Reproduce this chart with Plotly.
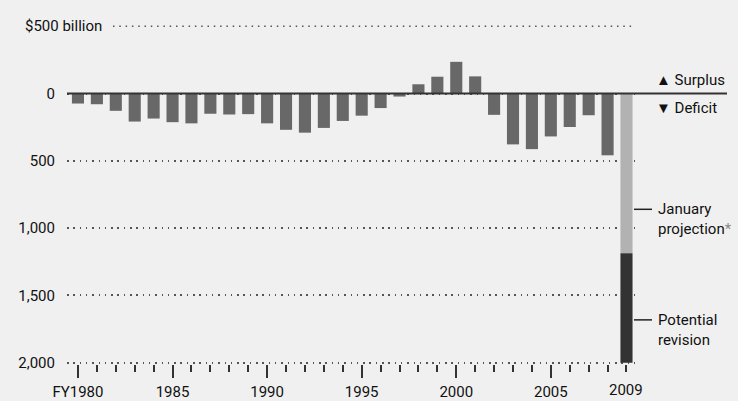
import plotly.graph_objects as go

# Federal budget balance by fiscal year, $ billions (surplus positive, deficit negative)
years = list(range(1980, 2009))
balance = [-73.8, -79.0, -128.0, -207.8, -185.4, -212.3, -221.2, -149.7, -155.2, -152.6,
           -221.0, -269.2, -290.3, -255.1, -203.2, -164.0, -107.4, -21.9, 69.3, 125.6,
           236.2, 128.2, -157.8, -377.6, -412.7, -318.3, -248.2, -160.7, -458.6]

# FY2009: January projection plus a potential upward revision
proj_year = 2009
jan_projection = -1186.0
potential_revision = -814.0

y_tickvals = [0, -500, -1000, -1500, -2000]
y_ticktext = ["0", "500", "1,000", "1,500", "2,000"]
x_tickvals = [1980, 1985, 1990, 1995, 2000, 2005]
x_ticktext = ["FY1980", "1985", "1990", "1995", "2000", "2005"]

FONT = "Roboto, 'Open Sans', sans-serif"
TXT = "#111111"
BG = "#f0f0f0"
F = dict(family=FONT, size=15, color=TXT)

fig = go.Figure()
fig.add_trace(go.Bar(x=years, y=balance, marker=dict(color="#686868", line=dict(width=0)),
                     hoverinfo="x+y"))
fig.add_trace(go.Bar(x=[proj_year], y=[jan_projection],
                     marker=dict(color="#b2b2b2", line=dict(width=0))))
fig.add_trace(go.Bar(x=[proj_year], y=[potential_revision],
                     marker=dict(color="#333333", line=dict(width=0))))

L, R, T, B = 67, 103, 25, 37
fig.update_layout(
    width=738, height=401,
    margin=dict(l=L, r=R, t=T, b=B, pad=0, autoexpand=False),
    paper_bgcolor=BG, plot_bgcolor=BG,
    barmode="relative", bargap=0.36,
    showlegend=False,
    font=F,
    xaxis=dict(
        range=[1979.42, 2009.45],
        automargin=False,
        tickvals=x_tickvals, ticktext=x_ticktext,
        ticks="outside", ticklen=13, tickwidth=1.5, tickcolor="#333",
        ticklabelstandoff=1,
        minor=dict(dtick=1, tick0=1980, ticks="outside", ticklen=7,
                   tickwidth=1.5, tickcolor="#333", showgrid=False),
        showgrid=False, zeroline=False, showline=False,
        tickfont=F,
    ),
    yaxis=dict(
        range=[-2010, 510],
        automargin=False,
        tickvals=y_tickvals, ticktext=y_ticktext,
        ticks="", ticklabelstandoff=11,
        showgrid=True, gridcolor="#555555", gridwidth=1.5, griddash="1.5px,4.8px",
        zeroline=False, showline=False,
        tickfont=F,
    ),
)

plot_w = 738 - L - R


def px_to_paper(px):
    return (px - L) / plot_w


# Top reference line with its label
fig.add_shape(type="line", xref="paper", yref="y", x0=px_to_paper(113), x1=1, y0=500, y1=500,
              line=dict(color="#555555", width=1.5, dash="1.5px,4.8px"), layer="below")
fig.add_annotation(xref="paper", yref="y", x=px_to_paper(104), y=500, xanchor="right",
                   yanchor="middle", text="$500 billion", showarrow=False, font=F)

# Zero line running out under the surplus/deficit key
fig.add_shape(type="line", xref="paper", yref="y", x0=0, x1=px_to_paper(727), y0=0, y1=0,
              line=dict(color="#333333", width=2))
fig.add_annotation(xref="paper", yref="y", x=px_to_paper(654), y=102, xanchor="left",
                   yanchor="middle", text="▲ Surplus", showarrow=False, font=F)
fig.add_annotation(xref="paper", yref="y", x=px_to_paper(654), y=-105, xanchor="left",
                   yanchor="middle", text="▼ Deficit", showarrow=False, font=F)

# Callouts for the 2009 bar
fig.add_shape(type="line", xref="paper", yref="y", x0=px_to_paper(634), x1=px_to_paper(652),
              y0=-860, y1=-860, line=dict(color="#222", width=1.5))
fig.add_annotation(xref="paper", yref="y", x=px_to_paper(656), y=-934, xanchor="left",
                   yanchor="middle", align="left", showarrow=False,
                   text="January<br>projection<span style='color:#888'>*</span>", font=F)
fig.add_shape(type="line", xref="paper", yref="y", x0=px_to_paper(634), x1=px_to_paper(652),
              y0=-1682, y1=-1682, line=dict(color="#222", width=1.5))
fig.add_annotation(xref="paper", yref="y", x=px_to_paper(656), y=-1755, xanchor="left",
                   yanchor="middle", align="left", showarrow=False,
                   text="Potential<br>revision", font=F)

# Year label under the projected bar
fig.add_annotation(xref="x", yref="paper", x=proj_year, y=-26 / 339, xanchor="center",
                   yanchor="middle", text="2009", showarrow=False, font=F)

fig.write_html("out.html")
